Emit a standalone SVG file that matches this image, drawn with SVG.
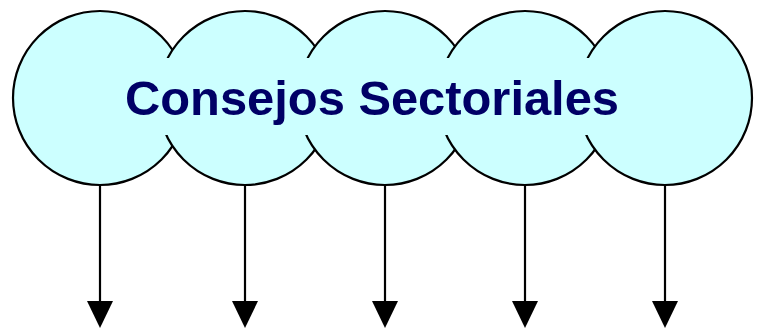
<svg xmlns="http://www.w3.org/2000/svg" width="757" height="329" viewBox="0 0 757 329">
<defs>
<style>
.c{fill:#CCFFFF;stroke:#000;stroke-width:2.2}
.a{stroke:#000;stroke-width:2.2;fill:none}
.h{fill:#000}
.t{font-family:"Liberation Sans",Arial,sans-serif;font-weight:bold;font-size:48px;fill:#000066}
</style>
</defs>
<rect width="757" height="329" fill="#fff"/>
<g id="node1"><circle class="c" cx="100" cy="98" r="87"/></g>
<g id="node2"><circle class="c" cx="245" cy="98" r="87"/></g>
<g id="node3"><circle class="c" cx="385" cy="98" r="87"/></g>
<g id="node4"><circle class="c" cx="525" cy="98" r="87"/></g>
<g id="node5"><circle class="c" cx="665" cy="98" r="87"/></g>
<g id="label">
<rect x="115" y="58" width="520" height="77" fill="#CCFFFF"/>
<text class="t" x="125" y="115" textLength="494" lengthAdjust="spacingAndGlyphs">Consejos Sectoriales</text>
</g>
<g id="connectors">
<line class="a" x1="100" y1="185" x2="100" y2="303"/>
<polygon class="h" points="87,301 113,301 100,328"/>
<line class="a" x1="245" y1="185" x2="245" y2="303"/>
<polygon class="h" points="232,301 258,301 245,328"/>
<line class="a" x1="385" y1="185" x2="385" y2="303"/>
<polygon class="h" points="372,301 398,301 385,328"/>
<line class="a" x1="525" y1="185" x2="525" y2="303"/>
<polygon class="h" points="512,301 538,301 525,328"/>
<line class="a" x1="665" y1="185" x2="665" y2="303"/>
<polygon class="h" points="652,301 678,301 665,328"/>
</g>
</svg>
